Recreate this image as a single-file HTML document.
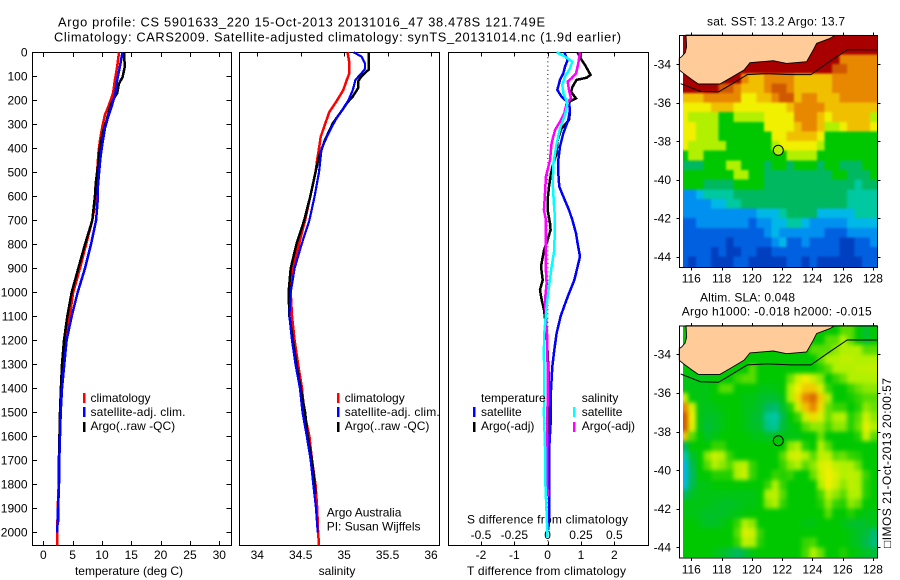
<!DOCTYPE html>
<html>
<head>
<meta charset="utf-8">
<title>Argo profile chart</title>
<style>
html,body{margin:0;padding:0;background:#fff;}
svg{display:block;font-family:"Liberation Sans",sans-serif;font-size:12px;fill:#000;}
text{fill:#000;}
.frame{fill:none;stroke:#000;stroke-width:1;shape-rendering:crispEdges;}
.tick{stroke:#000;stroke-width:1;shape-rendering:crispEdges;}
.curve{fill:none;stroke-linejoin:miter;shape-rendering:crispEdges;}
.big{font-size:12.8px;}
</style>
</head>
<body>
<svg id="chart" xmlns="http://www.w3.org/2000/svg" width="900" height="580" viewBox="0 0 900 580">
<defs>
<filter id="blurSst" filterUnits="userSpaceOnUse" x="660" y="20" width="240" height="270" color-interpolation-filters="sRGB">
<feGaussianBlur stdDeviation="1"/>
<feComponentTransfer><feFuncA type="linear" slope="20"/></feComponentTransfer>
</filter>
<filter id="blurSla" filterUnits="userSpaceOnUse" x="660" y="310" width="240" height="270" color-interpolation-filters="sRGB">
<feGaussianBlur stdDeviation="2.2"/>
<feComponentTransfer><feFuncA type="linear" slope="20"/></feComponentTransfer>
</filter>
<clipPath id="clipSst"><rect x="683" y="35" width="194.5" height="232"/></clipPath>
<clipPath id="clipSla"><rect x="683" y="325.7" width="194.5" height="231.6"/></clipPath>
</defs>
<rect x="0" y="0" width="900" height="580" fill="#fff"/>
<text class="big" x="58" y="26.5" textLength="487" lengthAdjust="spacing">Argo profile: CS 5901633_220 15-Oct-2013 20131016_47 38.478S 121.749E</text>
<text class="big" x="54" y="41.5" textLength="567" lengthAdjust="spacing">Climatology: CARS2009. Satellite-adjusted climatology: synTS_20131014.nc (1.9d earlier)</text>

<text x="129" y="575" text-anchor="middle">temperature (deg C)</text>
<text x="337" y="575" text-anchor="middle">salinity</text>
<text x="467" y="575" textLength="159" lengthAdjust="spacing">T difference from climatology</text>
<text x="467" y="523.5" textLength="161" lengthAdjust="spacing">S difference from climatology</text>
<text x="326.7" y="516.7">Argo Australia</text>
<text x="326.7" y="530.7">PI: Susan Wijffels</text>

<g id="plots"></g>
<g id="maps"></g>

<g>
<rect x="83" y="393" width="2.5" height="10" fill="#f00"/>
<text x="90.5" y="402">climatology</text>
<rect x="83" y="407" width="2.5" height="10" fill="#00f"/>
<text x="90.5" y="416" textLength="95" lengthAdjust="spacing">satellite-adj. clim.</text>
<rect x="83" y="422" width="2.5" height="10" fill="#000"/>
<text x="90.5" y="430">Argo(..raw -QC)</text>
</g>
<g>
<rect x="337" y="393" width="2.5" height="10" fill="#f00"/>
<text x="344.7" y="402">climatology</text>
<rect x="337" y="407" width="2.5" height="10" fill="#00f"/>
<text x="344.7" y="416" textLength="95" lengthAdjust="spacing">satellite-adj. clim.</text>
<rect x="337" y="422" width="2.5" height="10" fill="#000"/>
<text x="344.7" y="430">Argo(..raw -QC)</text>
</g>
<g>
<text x="481" y="402">temperature</text>
<rect x="473" y="407" width="2.5" height="10" fill="#00f"/>
<text x="481" y="416">satellite</text>
<rect x="473" y="422" width="2.5" height="10" fill="#000"/>
<text x="481" y="430">Argo(-adj)</text>
<text x="581.7" y="402">salinity</text>
<rect x="573" y="407" width="2.5" height="10" fill="#0ff"/>
<text x="581.7" y="416">satellite</text>
<rect x="573" y="422" width="2.5" height="10" fill="#f0f"/>
<text x="581.7" y="430">Argo(-adj)</text>
</g>

<text x="776" y="25.7" text-anchor="middle" textLength="138" lengthAdjust="spacing">sat. SST: 13.2 Argo: 13.7</text>
<text x="700" y="301.7" textLength="95" lengthAdjust="spacing">Altim. SLA: 0.048</text>
<text x="681.7" y="315.7" textLength="190" lengthAdjust="spacing">Argo h1000: -0.018 h2000: -0.015</text>
<text transform="translate(891 548) rotate(-90)" textLength="170" lengthAdjust="spacing">□IMOS 21-Oct-2013 20:00:57</text>
</svg>

<script>
/* ---------- temperature panel data ---------- */
const depthTicks = [0,100,200,300,400,500,600,700,800,900,1000,1100,1200,1300,1400,1500,1600,1700,1800,1900,2000];
const tempTicks = [0,5,10,15,20,25,30];
const salTicks = [34,34.5,35,35.5,36];
const salTickLabels = ['34','34.5','35','35.5','36'];
const tDiffTicks = [-2,-1,0,1,2];
const sDiffTicks = [-0.5,-0.25,0,0.25,0.5];
const sDiffTickLabels = ['-0.5','-0.25','0','0.25','0.5'];

const tempClimDepth = [0,60,115,170,226,261,310,365,420,490,560,615,700,800,900,1000,1100,1200,1300,1400,1500,1700,1800,1900,2000,2054];
const tempClim = [12.9,12.6,12.2,11.9,11.1,10.5,10.05,9.66,9.4,9.2,8.9,8.92,8.35,7.3,6.25,5.1,4.5,3.87,3.4,2.97,2.9,2.68,2.62,2.45,2.39,2.39];
const tempArgoDepth = [0,60,104,130,170,198,226,282,330,392,462,532,600,700,800,900,1000,1100,1200,1300,1400,1500,1700,1800,1960];
const tempArgo = [13.75,13.9,13.5,12.9,12.6,11.9,11.4,10.8,10.2,9.66,9.4,9,8.8,8.35,7.1,5.97,4.84,4.09,3.53,3.19,3.0,2.85,2.66,2.65,2.5];
const tempSatDepth = [0,60,115,178,226,268,317,376,430,490,560,615,700,800,900,1000,1100,1200,1300,1400,1500,1700,1800,1900,2000];
const tempSat = [13.5,13.06,12.6,12.2,11.65,11.07,10.5,10.1,9.78,9.55,9.3,9.27,9,8.13,7.1,5.86,4.84,3.98,3.58,3.19,2.97,2.73,2.67,2.5,2.39];

/* ---------- salinity panel data ---------- */
const salClimDepth = [0,45,87,115,157,199,248,300,352,400,448,500,600,700,800,900,1000,1100,1200,1300,1400,1500,1600,1700,1800,1900,2000,2054];
const salClim = [35.04,35.06,35.06,35.03,34.99,34.92,34.83,34.78,34.73,34.71,34.69,34.67,34.61,34.55,34.48,34.41,34.385,34.4,34.43,34.47,34.515,34.54,34.6,34.63,34.67,34.69,34.7,34.71];
const salArgoDepth = [0,73,100,122,150,184,212,240,295,365,435,500,600,700,800,900,1000,1100,1200,1300,1400,1500,1600,1700,1800,1840];
const salArgo = [35.28,35.28,35.2,35.16,35.16,35.1,35.03,34.98,34.87,34.78,34.71,34.67,34.61,34.54,34.45,34.385,34.36,34.37,34.41,34.45,34.5,34.55,34.58,34.63,34.66,34.67];
const salSatDepth = [0,18,46,69,87,115,157,199,233,282,338,400,500,600,700,800,900,1000,1100,1200,1300,1400,1500,1600,1700,1800,1900,2000];
const salSat = [35.11,35.2,35.24,35.24,35.2,35.13,35.1,35.05,34.99,34.9,34.82,34.74,34.71,34.66,34.6,34.51,34.43,34.385,34.37,34.4,34.44,34.49,34.52,34.57,34.615,34.645,34.676,34.695];

/* ---------- difference panel data ---------- */
const tDiffSatDepth = [0,32,60,88,115,157,185,213,240,282,338,393,449,504,560,601,657,698,754,796,851,893,949,1004,1060,1101,1171,1240,1310,1407,1546,1643,1920,1990];
const tDiffSat = [0.5,0.6,0.52,0.47,0.37,0.29,0.42,0.64,0.67,0.62,0.47,0.37,0.32,0.32,0.35,0.47,0.64,0.74,0.85,0.9,0.97,0.9,0.8,0.64,0.49,0.39,0.27,0.2,0.14,0.1,0.09,0.05,0.05,0.02];
const tDiffArgoDepth = [0,32,53,94,106,115,143,164,192,206,247,282,317,365,421,462,504,560,615,657,712,740,782,824,893,949,990,1032,1073,1108,1171,1400,1752];
const tDiffArgo = [0.9,1.02,1.12,1.29,1.17,0.87,0.75,0.7,0.85,0.64,0.67,0.64,0.42,0.3,0.27,0.17,0.1,0.04,0,0,0.07,0.09,0,-0.11,-0.2,-0.15,-0.23,-0.18,-0.11,-0.08,-0.03,0.05,0.05];
const sDiffSatDepth = [0,18,39,67,101,136,171,213,261,317,379,463,546,657,685,824,893,963,1032,1101,1171,1240,1407,1504,1643,1754,1851,1990,2020];
const sDiffSat = [0.068,0.13,0.185,0.168,0.13,0.11,0.118,0.15,0.13,0.093,0.068,0.043,0.038,0.05,0.055,0.05,0.03,0.013,-0.003,-0.015,-0.025,-0.028,-0.025,-0.028,-0.02,-0.02,-0.013,-0.003,-0.003];
const sDiffArgoDepth = [0,46,88,108,122,157,192,213,254,289,324,379,449,518,588,657,698,782,893,963,1032,1101,1171,1240,1407,1546,1643,1851];
const sDiffArgo = [0.243,0.23,0.213,0.18,0.15,0.16,0.175,0.143,0.125,0.093,0.055,0.03,0.018,-0.013,-0.02,-0.028,-0.013,-0.013,-0.015,-0.008,-0.02,-0.013,-0.005,-0.003,0.003,-0.005,-0.005,0];

/* ---------- map data ---------- */
const mapLonTicks = [116,118,120,122,124,126,128];
const mapLatTicks = [-34,-36,-38,-40,-42,-44];
const coastLon = [115.65,115.69,115.6,115.36,115.21,115.21,115.47,116.02,116.46,117.89,118.55,119.48,119.88,121.42,122.3,123.62,124.06,124.28,125.16,125.49,128.29,128.29,115.65];
const coastLat = [-32.5,-33.1,-33.41,-33.62,-33.7,-34.31,-34.48,-34.8,-35.04,-35.04,-34.74,-34.31,-33.93,-33.83,-33.97,-33.88,-33.27,-32.93,-32.67,-32.52,-32.52,-32.52,-32.5];
const isobathLon = [115.3,116.6,117.8,118.8,119.7,121.0,122.6,123.9,125.0,126.3,128.29];
const isobathLat = [-35.02,-35.42,-35.45,-34.98,-34.55,-34.5,-34.55,-34.55,-33.95,-33.26,-33.26];
const argoLon = [121.749];
const argoLat = [-38.478];
const sstCircleValue = [7];
const slaCircleValue = [6];

const sstGrid = [
[12,12,12,12,12,12,12,12,12,12,12,12,12,12,12,12,12,12,12,12,12,12,12,12,12,12],
[12,12,12,12,12,12,12,12,12,12,12,12,12,12,12,12,12,12,12,12,12,12,12,12,12,12],
[12,12,12,12,12,12,12,12,12,12,12,12,12,12,12,12,12,12,12,12,12,10,10,10,10,10],
[12,12,12,12,12,12,12,12,12,12,12,12,12,12,12,12,12,12,12,12,11,11,10,10,10,10],
[12,12,12,12,12,12,12,12,10,9,9,10,10,10,10,9,9,9,9,9,10,10,10,10,10,10],
[12,12,12,12,12,11,11,10,9,9,9,10,11,11,10,9,9,9,9,9,10,10,10,10,10,10],
[9,9,9,10,10,10,10,10,8,8,9,9,10,11,11,9,10,10,9,9,9,10,10,10,10,10],
[8,8,8,8,9,9,9,8,8,8,8,8,8,8,9,10,10,10,10,9,9,9,9,9,9,9],
[8,7,7,7,7,6,6,7,7,7,7,8,8,8,8,10,10,10,9,8,9,9,9,9,9,7],
[8,8,7,7,7,6,6,6,6,6,6,8,8,8,8,9,10,10,9,7,7,8,9,9,9,8],
[8,8,7,7,7,6,6,6,6,6,6,6,8,8,9,9,9,9,8,6,6,6,6,6,6,6],
[8,7,7,7,7,7,6,6,6,6,6,6,7,8,8,8,8,8,7,6,6,6,6,6,6,6],
[6,7,7,6,6,6,6,6,6,6,6,6,6,6,7,7,7,7,6,6,6,6,6,6,6,6],
[5,5,5,6,6,6,7,7,6,6,6,5,6,6,5,6,6,6,5,6,6,5,5,5,6,6],
[6,6,6,6,6,6,6,7,7,6,6,5,5,5,5,5,5,5,5,5,6,6,5,5,5,6],
[6,6,6,5,5,5,5,6,6,6,6,5,5,5,5,5,5,5,5,5,5,5,5,4,5,5],
[2,2,3,4,4,4,4,5,5,5,5,5,5,5,5,5,5,5,5,5,5,5,4,4,4,4],
[2,2,2,2,3,3,4,4,5,5,5,5,5,5,5,5,5,5,5,5,5,5,4,4,4,4],
[2,2,2,2,2,2,2,2,2,2,3,3,3,4,5,5,5,5,3,3,3,3,3,4,4,4],
[1,1,2,2,2,2,2,2,2,1,2,2,3,3,4,4,3,2,2,2,2,2,3,3,3,3],
[1,1,1,1,1,1,1,1,1,1,1,2,3,2,2,2,2,2,2,1,1,1,2,2,2,2],
[1,1,1,1,1,1,0,1,1,1,1,1,2,3,1,1,2,1,1,1,1,0,0,1,1,2],
[1,1,1,1,0,1,0,0,1,1,0,0,1,1,1,1,1,1,1,1,1,0,0,1,1,1],
[1,0,1,1,0,0,0,1,1,0,0,0,0,0,1,1,0,1,0,0,0,0,0,0,1,1]
];
const slaGrid = [
[6,6,6,6,6,6,6,6,6,6,6,6,6,6,6,6,6,6,6,6,6,6.5,6.5,6,5.5,6],
[6,6,6,6,6,6,6,6,6,6,6,6,6,6,6,6,6,6,6,6.5,6.5,7,6.5,6,5.5,6],
[6,6,6,6,6,6,6,6,6,6,6,6,6,6,6,6,6,6.5,6.5,6.5,6.8,7,7,7,6.5,6.5],
[6,6,6,6,6,6,6,6,6,6,6,6,6,6,6,6,6,6,6.5,7,7,7.2,7.2,7,7,7],
[6,6,6,6,6,6,6,6,6,6.5,6,6,6,6,6,6,6,6,6.2,6.5,7,7,7,7.2,7.2,7.2],
[5.8,5.8,5.8,5.8,6,6,6,6.3,6.5,6.5,6,6,6,6,6.6,7.4,8,7.4,6.8,6,6.3,6.6,7,7,7,7],
[5.8,5.8,5.8,5.8,6,6.5,6.5,6,6,6,5.8,5.8,5.8,6,7,8,8.8,8.8,7.6,6.3,6,6,6.3,6.6,6.8,6.8],
[7.4,5.9,5.8,5.8,6,6,6,6,5.8,5.8,5.6,5.5,5.5,5.8,7,8.4,10,10.6,8.8,7,6,6,6.1,6.3,6.5,6.5],
[10,7.6,5.8,5.7,5.8,5.9,6,6,5.8,5.7,5.5,5,4.8,5.5,6.2,7.4,9,10,8.4,6.6,6.3,6.3,6,6.2,6.8,6.6],
[11,8,5.8,5.6,5.6,5.8,6,6,5.8,5.6,5.4,4.2,3.9,5.2,6,6.3,7.4,8.4,7.6,6.6,7,7.1,6.2,6.5,7.4,6.8],
[11,7.8,5.8,5.4,5.6,5.8,6,6,5.8,5.6,5.5,4.4,4.2,5.4,5.8,6,6.5,6.8,6.8,6.4,6.8,6.8,6.2,6.6,7.8,7],
[9,6.5,6,5.6,5.8,6,6,6,6,5.8,5.8,5.6,5.6,5.8,5.8,5.8,6,6,6.6,6,6,6,6,6.2,7.4,6.5],
[5,6,6,6,6.3,6.3,6,6,6,6,6,6,6,6,6.8,7,6.2,6,7,6.5,6,6,6,6,6,6],
[3.8,5.5,6,6.8,7.4,7,6.3,6,6,6,6,6,6,6.5,7.4,7.6,7,6.5,7.2,7.2,6.5,6.6,6.3,6.2,6,6],
[3,5.2,6,6.5,7,6.8,6.5,7,7.2,6.3,6,6,6,6.3,6.8,7,6.5,6.8,7.6,7.8,7.2,7,7,6.6,6,6],
[3,5,6,6,6.2,6.2,6.2,7,7.4,6.3,6,6,6.3,6.2,6.3,6,6,6.6,7.4,8,7.6,7,7.2,7,6.3,6],
[3.2,5.2,5.8,5.8,6,6,6,6,6,6,6,6.3,7,6.3,6,6,6,6,7,8,7.4,6.8,7.2,7,6.2,6],
[5,5.6,5.8,5.8,5.8,5.8,5.8,5.8,5.8,5.8,6,7,7.2,6.5,6,6,6,6,6.4,7.2,6.8,6.5,7,7,6.2,6],
[5.8,5.8,5.8,5.8,5.7,5.6,5.6,5.7,5.8,5.8,6,6.8,7,6.3,6,6,6,6,6.2,6.8,6.3,6.2,6.8,6.6,6,6],
[5.8,5.8,5.7,5.6,5.6,5.6,5.7,5.8,5.9,6,6,6,6,6,6,6,6,6,6,6.5,6,6,6.2,6,5.8,5.8],
[6,6,5.8,5.6,5.6,5.8,6,6.3,7,6.8,6,6,6,6,6,6,5.8,5.8,6,6,6,5.8,5.6,5.5,5.6,5.8],
[6,6,6,6,6,6,6,6.5,7.6,7.4,6.3,6,6,6,6,6,6,6,6,6,6,6,5.8,5.6,5.4,4.8],
[6,6,6,6,6,6,6,6.3,7.2,7,6.2,6,6,6,6,6,6.3,6.4,6,6,6,6,5.8,5.6,5.2,4.6],
[6,6,6,6,5.8,5.6,5.3,5,5.4,5.8,6,6,6,6,6,6,6.4,7,6.6,6,6,6.2,6,5.8,5.6,5.4]
];
const colorStops = ['#0040c0','#0060e0','#0090f0','#00b8e8','#00c8a0','#00b860','#00c800','#b0f000','#f0f000','#f0c000','#e88800','#d05800','#a80000'];

/* ---------- helpers ---------- */
const NS = 'http://www.w3.org/2000/svg';
const plots = document.getElementById('plots');
const maps = document.getElementById('maps');
function node(parent, tag, attrs) {
  const el = document.createElementNS(NS, tag);
  for (const k in attrs) el.setAttribute(k, attrs[k]);
  parent.appendChild(el);
  return el;
}
function linear(v0, p0, v1, p1) {
  return function (v) { return p0 + (v - v0) * (p1 - p0) / (v1 - v0); };
}
const depthY = linear(0, 52.3, 2000, 532.3);
function curvePoints(xs, ds, scale) {
  return xs.map(function (v, i) { return scale(v).toFixed(1) + ',' + depthY(ds[i]).toFixed(1); }).join(' ');
}
function colorFor(v) {
  const c = Math.max(0, Math.min(colorStops.length - 1, v));
  const i = Math.min(colorStops.length - 2, Math.floor(c));
  const f = c - i;
  const a = colorStops[i], b = colorStops[i + 1];
  const ch = function (s, o) { return parseInt(s.substr(o, 2), 16); };
  const mix = function (o) { return Math.round(ch(a, o) + (ch(b, o) - ch(a, o)) * f); };
  return 'rgb(' + mix(1) + ',' + mix(3) + ',' + mix(5) + ')';
}
function drawCurve(xs, ds, scale, color, width) {
  const p = node(plots, 'polyline', { class: 'curve', points: curvePoints(xs, ds, scale), stroke: color, 'stroke-width': width });
  return p;
}

const tempX = linear(0, 43.3, 30, 219.3);
const salX = linear(34, 257.3, 36, 431);
const tDiffX = linear(-2, 481, 2, 614.3);
const sDiffX = linear(-0.5, 481, 0.5, 614.3);

/* temperature axis */
{
  const f = node(plots, 'rect', { class: 'frame', x: 32.5, y: 52.5, width: 199, height: 493 });
  
  
  depthTicks.forEach(function (d) {
    const y = Math.round(depthY(d)) + 0.5;
    const l = node(plots, 'path', { class: 'tick', d: 'M32.5 ' + y + 'h4.5M231.5 ' + y + 'h-5' });
    
    
    const t = node(plots, 'text', { x: 27.5, y: depthY(d) + 4.3, 'text-anchor': 'end' });
    t.textContent = String(d);
    
    
  });
  tempTicks.forEach(function (v) {
    const x = Math.round(tempX(v)) + 0.5;
    const l = node(plots, 'path', { class: 'tick', d: 'M' + x + ' 52.5v4.5M' + x + ' 545.5v-4.5' });
    
    
    const t = node(plots, 'text', { x: tempX(v), y: 559, 'text-anchor': 'middle' });
    t.textContent = String(v);
    
    
  });
}
/* salinity axis */
{
  const f = node(plots, 'rect', { class: 'frame', x: 239.5, y: 52.5, width: 200, height: 493 });
  
  
  salTicks.forEach(function (v, i) {
    const x = Math.round(salX(v)) + 0.5;
    const l = node(plots, 'path', { class: 'tick', d: 'M' + x + ' 52.5v4' });
    
    
    const t = node(plots, 'text', { x: salX(v), y: 559, 'text-anchor': 'middle' });
    t.textContent = salTickLabels[i];
    
    
  });
}
/* difference axis */
{
  const f = node(plots, 'rect', { class: 'frame', x: 448.5, y: 52.5, width: 200, height: 493 });
  
  
  tDiffTicks.forEach(function (v) {
    const x = Math.round(tDiffX(v)) + 0.5;
    const l = node(plots, 'path', { class: 'tick', d: 'M' + x + ' 52.5v4M' + x + ' 545.5v-4' });
    
    
    const t = node(plots, 'text', { x: tDiffX(v), y: 559, 'text-anchor': 'middle' });
    t.textContent = String(v);
    
    
  });
  sDiffTicks.forEach(function (v, i) {
    const t = node(plots, 'text', { x: sDiffX(v), y: 539, 'text-anchor': 'middle' });
    t.textContent = sDiffTickLabels[i];
    
    
  });
  const z = node(plots, 'line', { x1: tDiffX(0) + 0.2, x2: tDiffX(0) + 0.2, y1: 53, y2: 545, stroke: '#000', 'stroke-width': 1, 'stroke-dasharray': '1 3.2' });
  
  
}

/* ---------- curves ---------- */
const c1 = drawCurve(tempClim, tempClimDepth, tempX, '#f00', 2.5);


const c2 = drawCurve(tempArgo, tempArgoDepth, tempX, '#000', 2.5);


const c3 = drawCurve(tempSat, tempSatDepth, tempX, '#00f', 2.5);


const c4 = drawCurve(salClim, salClimDepth, salX, '#f00', 2.5);


const c5 = drawCurve(salArgo, salArgoDepth, salX, '#000', 2.5);


const c6 = drawCurve(salSat, salSatDepth, salX, '#00f', 2.2);


const c7 = drawCurve(tDiffArgo, tDiffArgoDepth, tDiffX, '#000', 2.5);


const c8 = drawCurve(tDiffSat, tDiffSatDepth, tDiffX, '#00f', 2.5);


const c9 = drawCurve(sDiffArgo, sDiffArgoDepth, sDiffX, '#f0f', 2.5);


const c10 = drawCurve(sDiffSat, sDiffSatDepth, sDiffX, '#0ff', 2.5);



/* ---------- maps ---------- */
const lonX = linear(116, 691.3, 128, 872.9);
const CELL_LON0 = 115.295;
const CELL_DLON = 0.5;
const CELL_LAT0 = -32.5;
const CELL_DLAT = 0.5;

function drawMap(grid, latY, top, bottom, circleValue, labelBaseline, clipId, filterId) {
  const g = node(maps, 'g', {});
  
  
  const clip = node(g, 'g', { 'clip-path': 'url(#' + clipId + ')' });
  
  
  const cells = node(clip, 'g', { filter: 'url(#' + filterId + ')' });
  
  
  grid.forEach(function (row, r) {
    row.forEach(function (v, c) {
      const x0 = lonX(CELL_LON0 + c * CELL_DLON);
      const x1 = lonX(CELL_LON0 + (c + 1) * CELL_DLON);
      const y0 = Math.max(top, latY(CELL_LAT0 - r * CELL_DLAT));
      const y1 = Math.min(bottom, latY(CELL_LAT0 - (r + 1) * CELL_DLAT));
      const cell = node(cells, 'rect', { x: x0.toFixed(1), y: y0.toFixed(1), width: (x1 - x0 + 0.5).toFixed(1), height: (y1 - y0 + 0.5).toFixed(1), fill: colorFor(v), 'shape-rendering': 'crispEdges' });
      
      
    });
  });
  const land = node(g, 'polygon', {
    points: coastLon.map(function (lon, i) { return lonX(lon).toFixed(1) + ',' + Math.max(top, latY(coastLat[i])).toFixed(1); }).join(' '),
    fill: '#ffcc99', stroke: '#000', 'stroke-width': 0.9
  });
  
  
  const iso = node(g, 'polyline', {
    points: isobathLon.map(function (lon, i) { return lonX(lon).toFixed(1) + ',' + latY(isobathLat[i]).toFixed(1); }).join(' '),
    fill: 'none', stroke: '#000', 'stroke-width': 1
  });
  
  
  const marker = node(g, 'circle', { cx: lonX(argoLon[0]), cy: latY(argoLat[0]), r: 5, fill: colorFor(circleValue[0]), stroke: '#000', 'stroke-width': 1 });
  
  
  const frame = node(g, 'rect', { class: 'frame', x: 679.5, y: top + 0.5, width: 198, height: bottom - top });
  
  
  mapLonTicks.forEach(function (lon) {
    const x = Math.round(lonX(lon)) + 0.5;
    const l = node(g, 'path', { class: 'tick', d: 'M' + x + ' ' + top + 'v-2.5M' + x + ' ' + (bottom + 1) + 'v2.5' });
    
    
    const t = node(g, 'text', { x: lonX(lon), y: labelBaseline, 'text-anchor': 'middle' });
    t.textContent = String(lon);
    
    
  });
  mapLatTicks.forEach(function (lat) {
    const y = Math.round(latY(lat)) + 0.5;
    const l = node(g, 'path', { class: 'tick', d: 'M679 ' + y + 'h-2.5M878 ' + y + 'h2.5' });
    
    
    const t = node(g, 'text', { x: 671, y: latY(lat) + 4.3, 'text-anchor': 'end' });
    t.textContent = String(lat);
    
    
  });
}
drawMap(sstGrid, linear(-34, 64, -44, 256.7), 35, 267, sstCircleValue, 282.7, 'clipSst', 'blurSst');
drawMap(slaGrid, linear(-34, 354.3, -44, 547.3), 325.7, 557.3, slaCircleValue, 573.3, 'clipSla', 'blurSla');
</script>
</body>
</html>
